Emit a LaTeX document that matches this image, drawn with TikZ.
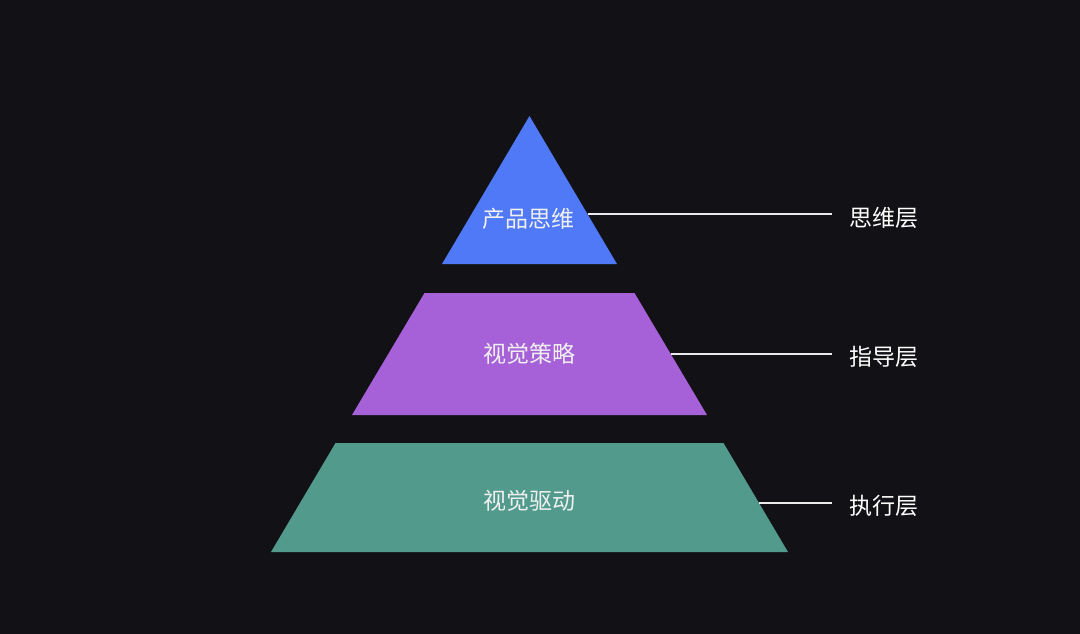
\documentclass[tikz,border=0pt]{standalone}
\usepackage{fontspec}
\usepackage{tikz}
\usetikzlibrary{calc}
\newfontfamily\cjk{Noto Sans CJK SC}
\definecolor{bgdark}{RGB}{18,17,21}
\definecolor{layerblue}{RGB}{79,121,246}
\definecolor{layerpurple}{RGB}{166,97,216}
\definecolor{layerteal}{RGB}{81,154,140}
\tikzset{t/.style={font=\cjk\fontsize{23}{23}\selectfont, text=white!94!black, inner sep=0pt}}
\tikzset{r/.style={font=\cjk\fontsize{23}{23}\selectfont, text=white, inner ysep=0pt, inner xsep=17pt, anchor=west}}
\tikzset{link/.style={draw=white!92!black, line width=2pt}}
\begin{document}
\begin{tikzpicture}[x=1pt,y=-1pt]
            \fill[bgdark] (0,0) rectangle (1080,634);
            \fill[layerblue] (529.5,116)--(617,264)--(442,264)--cycle;
            \fill[layerpurple] (424.5,293)--(634.5,293)--(707,415)--(352,415)--cycle;
            \fill[layerteal] (335.5,443)--(723.5,443)--(788,552)--(271,552)--cycle;
            \node[t] (A) at (528,219) {产品思维};
            \node[t] (B) at (529,354) {视觉策略};
            \node[t] (C) at (529,501) {视觉驱动};
            \coordinate (ea) at (587.6,214);
            \coordinate (eb) at (670.6,354);
            \coordinate (ec) at (759,503);
            \node[r] (TA) at (832,218) {思维层};
            \node[r] (TB) at (832,357) {指导层};
            \node[r] (TC) at (832,506) {执行层};
            \draw[link] (ea) -- (ea -| TA.west);
            \draw[link] (eb) -- (eb -| TB.west);
            \draw[link] (ec) -- (ec -| TC.west);
          \end{tikzpicture}
\end{document}
